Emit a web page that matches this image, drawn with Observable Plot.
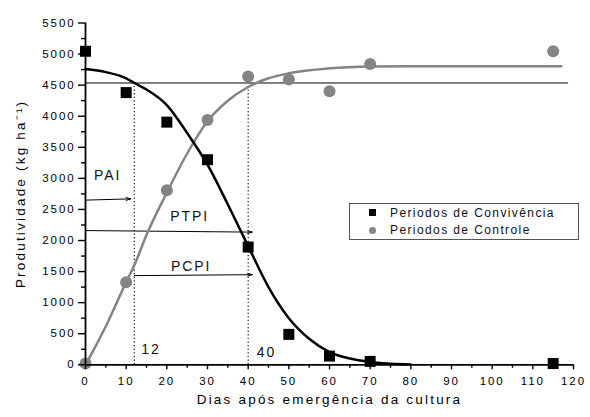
<!DOCTYPE html>
<html><head><meta charset="utf-8">
<script src="https://cdn.jsdelivr.net/npm/d3@7"></script>
<script src="https://cdn.jsdelivr.net/npm/@observablehq/plot@0.6"></script>
<style>
body{margin:0;background:#fff;}
#wrap{position:relative;width:590px;height:417px;font-family:"Liberation Sans",Arial,sans-serif;overflow:hidden;}
#legend{position:absolute;left:349px;top:203px;width:230px;height:37px;border:1px solid #555;box-sizing:border-box;background:#fff;}
#legend .item{position:absolute;left:0;height:16px;width:228px;font-size:12px;letter-spacing:1.4px;color:#111;}
#legend .sw{position:absolute;left:19px;top:4.5px;width:7px;height:7px;}
#legend .lab{position:absolute;left:40px;top:0;line-height:16px;white-space:nowrap;}
</style></head><body><div id="wrap"></div><script>
// observed points
const days = [0, 10, 20, 30, 40, 50, 60, 70, 115];
const convivencia = [5045, 4380, 3905, 3300, 1895, 490, 140, 55, 20];
const controle = [20, 1330, 2810, 3940, 4640, 4590, 4400, 4840, 5045];
// fitted curves
const convFitX = [0, 5, 10, 12, 15, 20, 25, 30, 35, 40, 45, 50, 55, 60, 65, 70, 75, 80];
const convFitY = [4760, 4710, 4610, 4535, 4430, 4180, 3730, 3220, 2580, 1910, 1250, 750, 420, 205, 100, 45, 15, 5];
const contFitX = [0, 2, 5, 10, 12, 15, 20, 25, 30, 35, 40, 45, 50, 60, 70, 80, 90, 100, 117];
const contFitY = [0, 240, 620, 1330, 1600, 2090, 2770, 3400, 3920, 4250, 4470, 4610, 4690, 4770, 4800, 4805, 4805, 4805, 4805];
// reference level and critical periods
const critLevel = 4535;
const critEnd = 118.8;
const dotDays = [12, 40];
const dotTop = [4535, 4460];
const arrowX1 = [0, 0, 12];
const arrowY1 = [2650, 2160, 1435];
const arrowX2 = [11.1, 41, 41];
const arrowY2 = [2670, 2135, 1450];
const annText = ["PAI", "PTPI", "PCPI", "12", "40"];
const annX = [5.45, 25.6, 26, 16.1, 44.5];
const annY = [3040, 2380, 1580, 250, 195];
// axes
const yTicks = [0, 500, 1000, 1500, 2000, 2500, 3000, 3500, 4000, 4500, 5000, 5500];
const yMinor = [250, 750, 1250, 1750, 2250, 2750, 3250, 3750, 4250, 4750, 5250];
const xTicks = [0, 10, 20, 30, 40, 50, 60, 70, 80, 90, 100, 110, 120];
const xMinor = [5, 15, 25, 35, 45, 55, 65, 75, 85, 95, 105, 115];
const xTitle = "Dias após emergência da cultura";
const yTitle = "Produtividade (kg ha⁻¹)";
const seriesNames = ["Periodos de Convivência", "Periodos de Controle"];
const seriesColors = ["#000000", "#848484"];

const conv = days.map((d, i) => ({d, v: convivencia[i]}));
const cont = days.map((d, i) => ({d, v: controle[i]}));
const convFit = convFitX.map((d, i) => ({d, v: convFitY[i]}));
const contFit = contFitX.map((d, i) => ({d, v: contFitY[i]}));
const dots = dotDays.map((d, i) => ({d, top: dotTop[i]}));
const arrows = arrowX1.map((x, i) => ({x1: x, y1: arrowY1[i], x2: arrowX2[i], y2: arrowY2[i]}));
const ann = annText.map((t, i) => ({t, x: annX[i], y: annY[i]}));

const font = '"Liberation Sans", Arial, sans-serif';
const plain = d => String(d);
const plot = Plot.plot({
  width: 590, height: 417,
  marginLeft: 85, marginRight: 17, marginTop: 22.5, marginBottom: 52.7,
  style: {fontFamily: font, fontSize: "11.5px", letterSpacing: "1.9px", color: "#000", background: "transparent", overflow: "visible"},
  x: {domain: [0, 120]},
  y: {domain: [0, 5500]},
  marks: [
    Plot.ruleY([critLevel], {x1: 0, x2: critEnd, stroke: "#000", strokeWidth: 1}),
    Plot.ruleX(dots, {x: "d", y1: 0, y2: "top", stroke: "#000", strokeWidth: 1.1, strokeDasharray: "1.2,2.4"}),
    Plot.arrow(arrows, {x1: "x1", y1: "y1", x2: "x2", y2: "y2", stroke: "#000", strokeWidth: 1, headLength: 7, headAngle: 35}),
    Plot.line(contFit, {x: "d", y: "v", curve: "monotone-x", stroke: seriesColors[1], strokeWidth: 2.5}),
    Plot.line(convFit, {x: "d", y: "v", curve: "monotone-x", stroke: seriesColors[0], strokeWidth: 2.5}),
    Plot.dot(cont, {x: "d", y: "v", r: 6, fill: seriesColors[1], stroke: "none"}),
    Plot.dot(conv, {x: "d", y: "v", symbol: "square", r: 6.2, fill: seriesColors[0], stroke: "none"}),
    Plot.text(ann, {x: "x", y: "y", text: "t", fontSize: 14, textAnchor: "middle", lineAnchor: "middle", fill: "#111"}),
    Plot.ruleX([0], {stroke: "#000", strokeWidth: 1.8}),
    Plot.ruleY([0], {stroke: "#000", strokeWidth: 1.8}),
    Plot.axisY(yTicks, {tickSize: 7, tickPadding: 3, tickFormat: plain, label: null, strokeWidth: 1.4}),
    Plot.axisY(yMinor, {tickSize: 4, tickFormat: () => "", label: null, strokeWidth: 1.4}),
    Plot.axisX(xTicks, {tickSize: 5, tickPadding: 7, tickFormat: plain, label: null, strokeWidth: 1.4}),
    Plot.axisX(xMinor, {tickSize: 3.5, tickFormat: () => "", label: null, strokeWidth: 1.4}),
    Plot.text([xTitle], {text: d => d, frameAnchor: "bottom", dy: 30, lineAnchor: "top", fontSize: 13.5}),
    Plot.text([yTitle], {text: d => d, frameAnchor: "left", dx: -65, rotate: -90, lineAnchor: "middle", textAnchor: "middle", fontSize: 13.5})
  ]
});
const wrap = document.getElementById("wrap");
wrap.appendChild(plot);
d3.select(plot).selectAll("text").filter(function(){ return this.textContent === yTitle || this.textContent === xTitle; }).style("letter-spacing", "2.2px");

const legend = document.createElement("div");
legend.id = "legend";
seriesNames.forEach((name, i) => {
  const item = document.createElement("div");
  item.className = "item";
  item.style.top = (i === 0 ? 0.5 : 18) + "px";
  const sw = document.createElement("div");
  sw.className = "sw";
  sw.style.background = seriesColors[i];
  if (i === 1) sw.style.borderRadius = "50%";
  const lab = document.createElement("div");
  lab.className = "lab";
  lab.textContent = name;
  item.appendChild(sw); item.appendChild(lab);
  legend.appendChild(item);
});
wrap.appendChild(legend);
</script></body></html>
